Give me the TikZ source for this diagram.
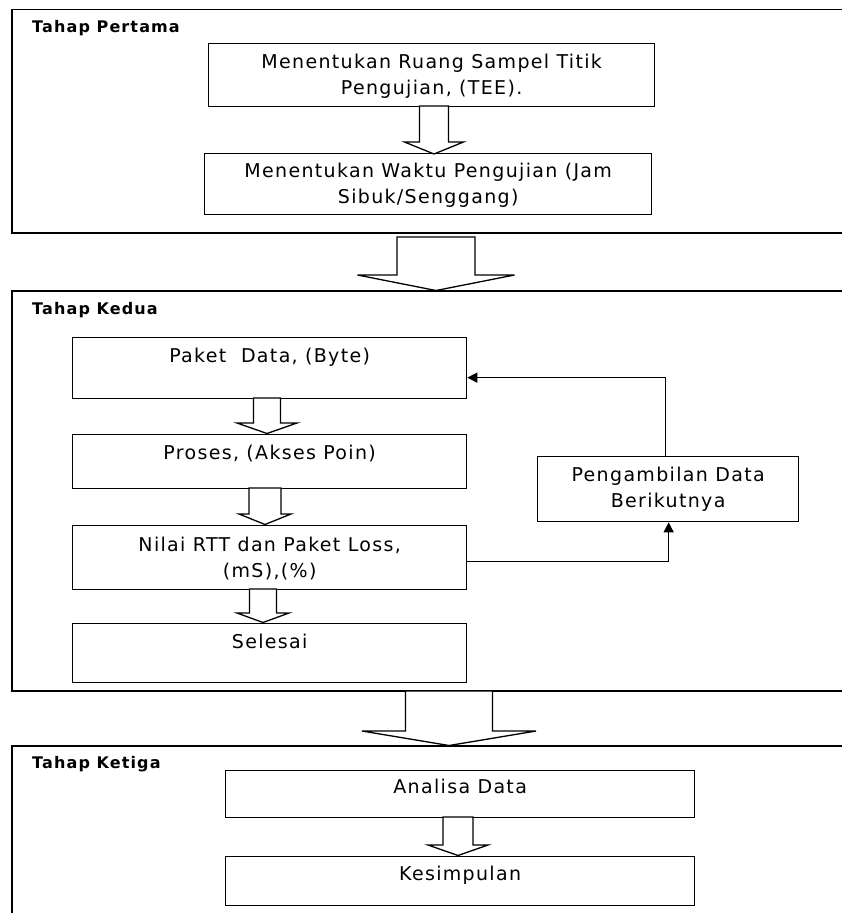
\documentclass[tikz,border=0pt]{standalone}
\usepackage{fontspec}
\setmainfont{DejaVu Sans}
\newfontfamily\bodyfont{DejaVu Sans}[LetterSpace=7]
\newfontfamily\headfont{DejaVu Sans}[LetterSpace=7]
\usetikzlibrary{arrows.meta,calc}
\newcommand\blockarr[6]{%
  \draw[blockarrow] (#1-#5,#2) -- (#1-#5,#3) -- (#1-#6,#3) -- (#1,#4) -- (#1+#6,#3) -- (#1+#5,#3) -- (#1+#5,#2) -- cycle;}
\begin{document}
\begin{tikzpicture}[x=1pt,y=-1pt,
  frameline/.style={line width=1.7pt},
  box/.style={draw, line width=1.3pt, anchor=north west, inner sep=0pt, fill=white},
  lbl/.style={font=\bodyfont\fontsize{19}{26}\selectfont, align=center, inner sep=0pt, anchor=base},
  heading/.style={font=\headfont\bfseries\fontsize{16}{19}\selectfont, inner sep=0pt, anchor=base west},
  blockarrow/.style={draw, line width=1.3pt, fill=white, line join=miter},
  link/.style={draw, line width=1.3pt, -{Triangle[length=10pt,width=10pt]}},
]
\useasboundingbox (0,0) rectangle (842,913);
\fill[white] (0,0) rectangle (842,913);

% frames
\draw[frameline] (842,9.5) -- (12,9.5) -- (12,233) -- (842,233);
\draw[frameline] (842,291) -- (12,291) -- (12,691) -- (842,691);
\draw[frameline] (842,746) -- (12,746) -- (12,913);

\node[heading] (t1) at (32,32) {Tahap Pertama};
\node[heading] (t2) at (32,314) {Tahap Kedua};
\node[heading] (t3) at (32,768) {Tahap Ketiga};

% stage 1
\node[box, minimum width=446pt, minimum height=63pt] (A) at (208,43) {};
\node[lbl] (Atxt) at ($(A.north)+(0,51)$) {Menentukan Ruang Sampel Titik\\Pengujian, (TEE).};
\node[box, minimum width=447pt, minimum height=61pt] (B) at (204,153) {};
\node[lbl] (Btxt) at ($(B.north)+(0,50)$) {Menentukan Waktu Pengujian (Jam\\Sibuk/Senggang)};

% stage 2
\node[box, minimum width=394pt, minimum height=61pt] (Paket) at (72,337) {};
\node[lbl] (Pakettxt) at ($(Paket.north)+(0,25)$) {Paket\ \ Data, (Byte)};
\node[box, minimum width=394pt, minimum height=54pt] (Proses) at (72,434) {};
\node[lbl] (Prosestxt) at ($(Proses.north)+(0,25)$) {Proses, (Akses Poin)};
\node[box, minimum width=394pt, minimum height=64pt] (Nilai) at (72,525) {};
\node[lbl] (Nilaitxt) at ($(Nilai.north)+(0,52)$) {Nilai RTT dan Paket Loss,\\(mS),(\%)};
\node[box, minimum width=394pt, minimum height=59pt] (Selesai) at (72,623) {};
\node[lbl] (Selesaitxt) at ($(Selesai.north)+(0,25)$) {Selesai};
\node[box, minimum width=261pt, minimum height=65pt] (Peng) at (537,456) {};
\node[lbl] (Pengtxt) at ($(Peng.north)+(0,51)$) {Pengambilan Data\\Berikutnya};

% stage 3
\node[box, minimum width=469pt, minimum height=47pt] (Analisa) at (225,770) {};
\node[lbl] (Analisatxt) at ($(Analisa.north)+(0,23)$) {Analisa Data};
\node[box, minimum width=469pt, minimum height=49pt] (Kesimpulan) at (225,856) {};
\node[lbl] (Kesimpulantxt) at ($(Kesimpulan.north)+(0,24)$) {Kesimpulan};

% block arrows: cx, top, wingY, tip, halfshaft, halfwing
\blockarr{434}{106}{142}{154}{14.5}{29.5}
\blockarr{436}{237}{275}{290.5}{39}{78.5}
\blockarr{267}{398}{423}{433.5}{13.5}{30}
\blockarr{265}{488}{514}{524.5}{16}{26}
\blockarr{263}{589}{613}{622.5}{13.5}{26}
\blockarr{449}{691}{731}{745.5}{43.5}{87}
\blockarr{458}{817}{845}{855.5}{15}{30}

% feedback connectors
\draw[link] ([yshift=-4pt]Nilai.east) -| ([xshift=0.5pt]Peng.south);
\draw[link] ([xshift=-2.5pt]Peng.north) |- ([yshift=-9.5pt]Paket.east);
\end{tikzpicture}
\end{document}
